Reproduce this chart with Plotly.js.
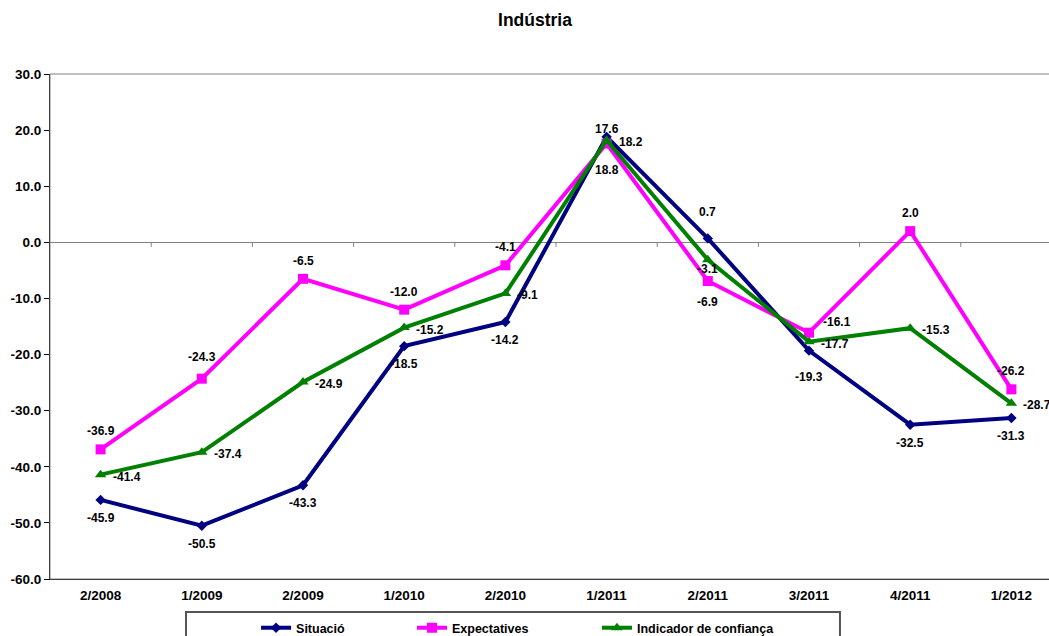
<!DOCTYPE html>
<html><head><meta charset="utf-8">
<script src="https://cdn.plot.ly/plotly-3.0.1.min.js"></script>
<style>html,body{margin:0;padding:0;overflow:hidden;background:#fff}#chart{width:1070px;height:636px}</style>
</head><body><div id="chart"></div>
<script>
const categories = ["2/2008","1/2009","2/2009","1/2010","2/2010","1/2011","2/2011","3/2011","4/2011","1/2012"];
const situacio = [-45.9,-50.5,-43.3,-18.5,-14.2,18.8,0.7,-19.3,-32.5,-31.3];
const expectatives = [-36.9,-24.3,-6.5,-12.0,-4.1,17.6,-6.9,-16.1,2.0,-26.2];
const indicador = [-41.4,-37.4,-24.9,-15.2,-9.1,18.2,-3.1,-17.7,-15.3,-28.7];
const seriesNames = ["Situació","Expectatives","Indicador de confiança"];
const yTickVals = [-60,-50,-40,-30,-20,-10,0,10,20,30];
const yTickText = ["-60.0","-50.0","-40.0","-30.0","-20.0","-10.0","0.0","10.0","20.0","30.0"];

const fmt = v => v.toFixed(1);
const FONT = "Arial, Liberation Sans, sans-serif";
const lblFont = {family:FONT, size:12, color:"#000", weight:"bold"};

const traces = [
 {x:categories, y:situacio, name:seriesNames[0], legend:"legend", mode:"lines+markers",
  line:{color:"#000080", width:4}, marker:{symbol:"diamond", size:8, color:"#000080"}, cliponaxis:false},
 {x:categories, y:expectatives, name:seriesNames[1], legend:"legend2", mode:"lines+markers",
  line:{color:"#FF00FF", width:4}, marker:{symbol:"square", size:10, color:"#FF00FF"}, cliponaxis:false},
 {x:categories, y:indicador, name:seriesNames[2], legend:"legend3", mode:"lines+markers",
  line:{color:"#008000", width:4}, marker:{symbol:"triangle-up", size:10, color:"#008000"}, cliponaxis:false}
];

const annotations = [];
situacio.forEach((v,i)=>{
  let ys = -18, xs = 0;
  if (i===6) ys = 26;
  if (i===5) ys = -33;
  if (i===7) ys = -26;
  annotations.push({x:categories[i], y:v, text:fmt(v), showarrow:false, font:lblFont, xshift:xs, yshift:ys, xanchor:"center", yanchor:"middle"});
});
expectatives.forEach((v,i)=>{
  let ys = 18, xs = 0, xa = "center";
  if (i===1) ys = 22;
  if (i===6) ys = -21;
  if (i===5) ys = 15;
  if (i===7) { xs = 12; ys = 11; xa = "left"; }
  annotations.push({x:categories[i], y:v, text:fmt(v), showarrow:false, font:lblFont, xshift:xs, yshift:ys, xanchor:xa, yanchor:"middle"});
});
indicador.forEach((v,i)=>{
  let ys = -2, xs = 10, xa = "left";
  if (i===6) { xs = 0; ys = -9; xa = "center"; }
  annotations.push({x:categories[i], y:v, text:fmt(v), showarrow:false, font:lblFont, xshift:xs, yshift:ys, xanchor:xa, yanchor:"middle"});
});

const shapes = [];
for (let i=0;i<categories.length-1;i++){
  shapes.push({type:"line", xref:"x", yref:"y", x0:i+0.5, x1:i+0.5, y0:0, y1:-0.8, line:{color:"#808080", width:1}});
}
shapes.push({type:"rect", xref:"paper", yref:"paper", x0:0, x1:1, y0:0, y1:1, line:{color:"#808080", width:1}});
shapes.push({type:"rect", xref:"paper", yref:"paper", x0:0.1344, x1:0.7806, y0:-0.0653, y1:-0.25, line:{color:"#555", width:2}});

const legBase = {orientation:"h", xanchor:"left", yref:"container", y:0.036, yanchor:"top", borderwidth:0,
  bgcolor:"rgba(0,0,0,0)", font:{family:FONT, size:12.5, weight:"bold", color:"#000"}, itemwidth:30};

const layout = {
  width:1070, height:636,
  margin:{l:50, r:8, t:74, b:57},
  paper_bgcolor:"#fff", plot_bgcolor:"#fff",
  title:{text:"Indústria", font:{family:FONT, size:17.5, color:"#000", weight:"bold"}, x:0.5, xref:"container", xanchor:"center", y:0.968, yanchor:"middle"},
  font:{family:FONT, color:"#000"},
  xaxis:{type:"category", range:[-0.5,9.5], showgrid:false, zeroline:false, showline:true, linecolor:"#000", linewidth:1,
    ticks:"", ticklabelstandoff:4, tickfont:{size:13.5, weight:"bold", color:"#000"}, automargin:false},
  yaxis:{range:[-60,30], tickvals:yTickVals, ticktext:yTickText, showgrid:false, zeroline:true, zerolinecolor:"#808080", zerolinewidth:1,
    showline:true, linecolor:"#000", linewidth:1, ticks:"outside", ticklen:5, tickcolor:"#000",
    tickfont:{size:13.5, weight:"bold", color:"#000"}, automargin:false},
  showlegend:true,
  legend:Object.assign({}, legBase, {x:0.2036}),
  legend2:Object.assign({}, legBase, {x:0.3577}),
  legend3:Object.assign({}, legBase, {x:0.5405}),
  annotations:annotations,
  shapes:shapes
};
Plotly.newPlot("chart", traces, layout, {displayModeBar:false, staticPlot:true});
</script></body></html>
